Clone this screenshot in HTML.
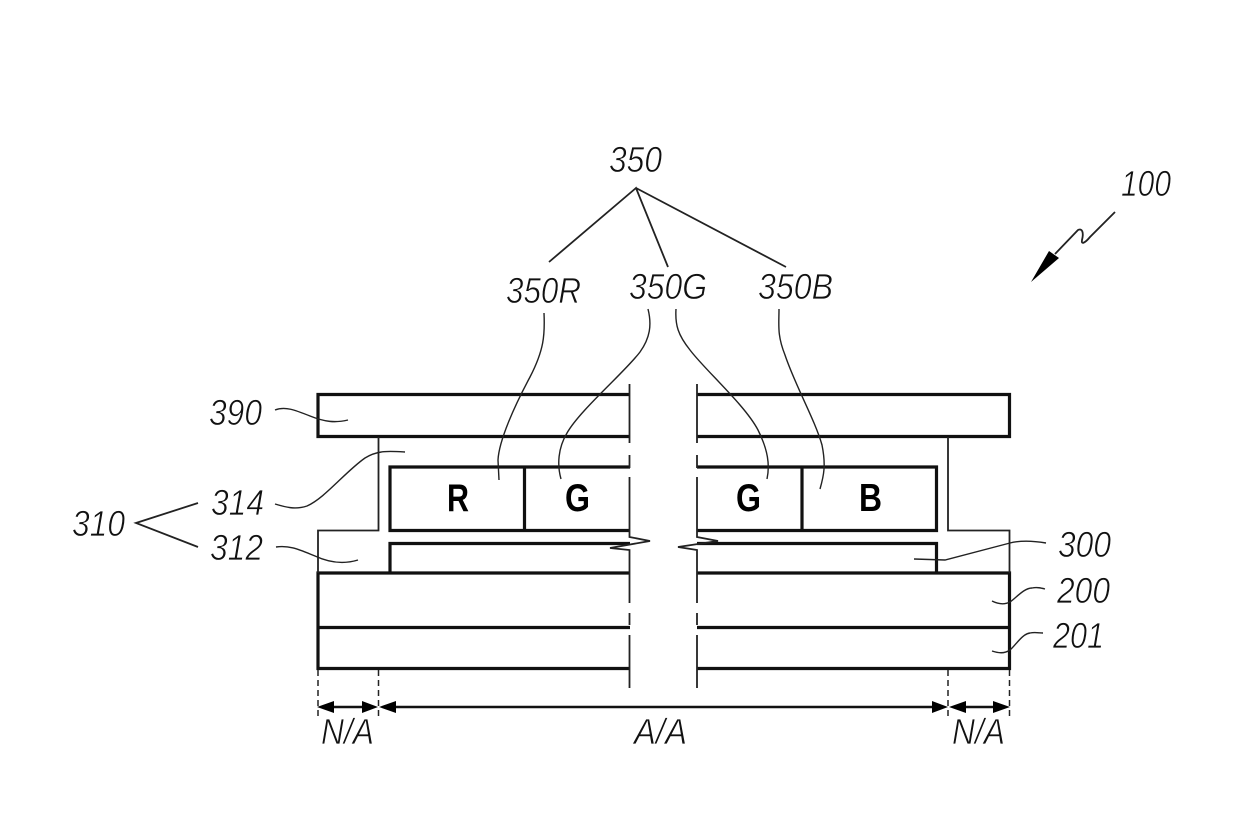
<!DOCTYPE html>
<html><head><meta charset="utf-8"><style>
html,body{margin:0;padding:0;background:#fff}
svg{display:block}
.t{font-family:"Liberation Sans",sans-serif;font-style:italic;font-size:36px;fill:#111;stroke:#fff;stroke-width:.7px}
.b{font-family:"Liberation Sans",sans-serif;font-weight:bold;font-size:39px;fill:#000}
.k{stroke:#111;stroke-width:3.2;fill:none}
.m{stroke:#222;stroke-width:1.8;fill:none}
.l{stroke:#222;stroke-width:1.4;fill:none}
.d{stroke:#222;stroke-width:1.5;fill:none;stroke-dasharray:6 4}
.w{stroke:#111;stroke-width:2.4;fill:none}
</style></head><body>
<svg width="1240" height="827" viewBox="0 0 1240 827" xmlns="http://www.w3.org/2000/svg">
<rect width="1240" height="827" fill="#fff"/>
<!-- thick structure -->
<path class="k" d="M630 394.5H318V436.5H630M697 394.5H1009.5V436.5H697"/>
<path class="k" d="M630 467H390V530.5H630M524.5 467V530.5M697 467H936.5V530.5H697M802 467V530.5"/>
<path class="k" d="M630 543.5H390V573M697 543.5H936.5V573"/>
<path class="k" d="M630 573H318V668.5H630M630 627.5H318M697 573H1009.5V668.5H697M697 627.5H1009.5"/>
<!-- sealant -->
<path class="m" d="M378.5 437V530.5H318V573M948 437V530.5H1009.5V573"/>
<!-- center breaks -->
<path class="m" d="M629.5 384V443M629.5 455V468M629.5 477V537L650 541L610 548L629.5 550V603M629.5 613V625M629.5 635V688"/>
<path class="m" d="M697 384V443M697 455V468M697 477V537L718 541L678 547L697 550V603M697 613V625M697 635V688"/>
<!-- dashed guides -->
<path class="d" d="M318 670V719M378.5 670V719M948 670V719M1009.5 670V719"/>
<!-- dimension -->
<path class="w" d="M330 707H366M392 707H936M962 707H996"/>
<path fill="#000" d="M317 707L334 701V713ZM378 707L362 701V713ZM379 707L396 701V713ZM948 707L932 701V713ZM949 707L966 701V713ZM1010 707L993 701V713Z"/>
<!-- leaders -->
<path class="l" d="M275 410C285 406 295 410 310 416C325 422 335 423 348 420"/>
<path class="l" d="M275 504C285 507 295 510 307 506C325 498 345 472 365 458C378 450 390 451 405 452"/>
<path class="l" d="M276 547C290 545 300 550 315 556C330 563 345 564 358 560"/>
<path class="m" d="M198 503L136 523L198 547"/>
<path class="m" d="M549 262L636 188L668 267M636 188L786 267"/>
<path class="l" d="M544 313C545 335 544 350 530 377C515 405 499 440 498 460L499 480"/>
<path class="l" d="M648 309C652 325 650 338 640 352C625 372 580 410 567 433C558 448 557 465 561 479"/>
<path class="l" d="M676 309C675 325 678 335 690 350C705 370 745 405 758 430C768 450 770 465 767 479"/>
<path class="l" d="M779 309C779 325 777 335 785 355C795 385 815 420 822 445C826 465 824 475 820 489"/>
<path class="l" d="M914 559L945 560L1010 543C1022 540 1034 541 1046 543"/>
<path class="l" d="M992 601C998 604 1004 605 1010 602C1016 598 1024 588 1032 588C1037 587 1041 588 1045 589"/>
<path class="l" d="M992 651C998 653 1004 654 1010 650C1016 645 1022 634 1030 633C1035 632 1039 633 1043 633"/>
<!-- 100 arrow -->
<path class="m" d="M1115 212L1090 237C1085 243 1081 245 1082 240C1084 232 1082 228 1078 230L1055 254"/>
<path fill="#000" d="M1031 282L1049 251L1059 258Z"/>
<!-- labels -->
<text class="t" x="609" y="172" textLength="53" lengthAdjust="spacingAndGlyphs">350</text>
<text class="t" x="506" y="303" textLength="75" lengthAdjust="spacingAndGlyphs">350R</text>
<text class="t" x="629" y="299" textLength="78" lengthAdjust="spacingAndGlyphs">350G</text>
<text class="t" x="758" y="299" textLength="75" lengthAdjust="spacingAndGlyphs">350B</text>
<text class="t" x="1121" y="196" textLength="50" lengthAdjust="spacingAndGlyphs">100</text>
<text class="t" x="209" y="425" textLength="53" lengthAdjust="spacingAndGlyphs">390</text>
<text class="t" x="211" y="515" textLength="53" lengthAdjust="spacingAndGlyphs">314</text>
<text class="t" x="210" y="560" textLength="53" lengthAdjust="spacingAndGlyphs">312</text>
<text class="t" x="72" y="536" textLength="53" lengthAdjust="spacingAndGlyphs">310</text>
<text class="t" x="1058" y="557" textLength="53" lengthAdjust="spacingAndGlyphs">300</text>
<text class="t" x="1057" y="603" textLength="53" lengthAdjust="spacingAndGlyphs">200</text>
<text class="t" x="1053" y="648" textLength="51" lengthAdjust="spacingAndGlyphs">201</text>
<text class="t" x="321" y="744" textLength="53" lengthAdjust="spacingAndGlyphs">N/A</text>
<text class="t" x="634" y="744" textLength="53" lengthAdjust="spacingAndGlyphs">A/A</text>
<text class="t" x="952" y="744" textLength="53" lengthAdjust="spacingAndGlyphs">N/A</text>
<text class="b" x="447" y="511" textLength="22" lengthAdjust="spacingAndGlyphs">R</text>
<text class="b" x="565" y="511" textLength="25" lengthAdjust="spacingAndGlyphs">G</text>
<text class="b" x="736" y="511" textLength="25" lengthAdjust="spacingAndGlyphs">G</text>
<text class="b" x="859" y="511" textLength="23" lengthAdjust="spacingAndGlyphs">B</text>
</svg>
</body></html>
